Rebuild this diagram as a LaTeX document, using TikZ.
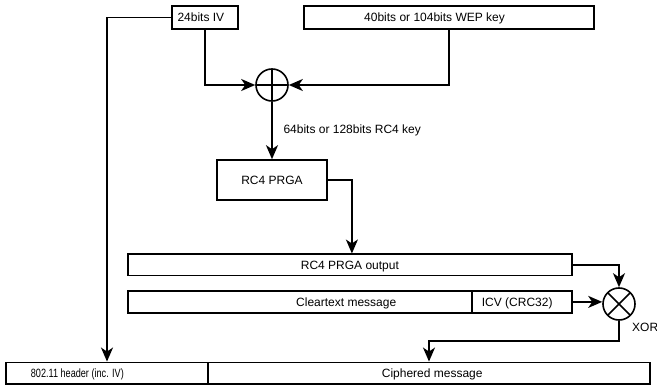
\documentclass[tikz,border=0pt]{standalone}
\usepackage{fontspec}
\setmainfont{Liberation Sans}
\usepackage{graphicx}
\usetikzlibrary{arrows.meta}
\begin{document}
\begin{tikzpicture}[x=1pt,y=-1pt,
  font=\fontsize{12}{14}\selectfont,
  box/.style={draw,line width=1.6pt,inner sep=0pt,text height=8.6pt,text depth=0pt},
  txt/.style={inner sep=0pt,anchor=base west},
  op/.style={circle,draw,line width=1.6pt,minimum size=32pt,inner sep=0pt},
  plusop/.style={op,path picture={
    \draw[line width=1.6pt] (path picture bounding box.north) -- (path picture bounding box.south)
      (path picture bounding box.west) -- (path picture bounding box.east);}},
  xorop/.style={op,path picture={
    \draw[line width=1.6pt] (path picture bounding box.north west) -- (path picture bounding box.south east)
      (path picture bounding box.north east) -- (path picture bounding box.south west);}},
  arr/.style={line width=1.6pt,-{Stealth[length=14pt,width=12pt,inset=4pt]}}]
\useasboundingbox (0,0) rectangle (657,385);

% key material
\node[box,minimum width=66pt,minimum height=23pt] (iv) at (205,17.7) {};
\node[txt] (ivtext) at (177.3,22) {24bits IV};
\node[box,minimum width=290pt,minimum height=23pt] (wep) at (449,17.7) {};
\node[txt] (weptext) at (364,22) {40bits or 104bits WEP key};

% concatenation and key stream
\node[plusop] (plus) at (272,85) {};
\node[box,minimum width=110pt,minimum height=40pt] (prga) at (272,180) {RC4 PRGA};
\node[txt] (keylabel) at (283.3,134) {64bits or 128bits RC4 key};

\node[box,minimum width=443.7pt,minimum height=21.4pt] (out) at (349.9,265) {RC4 PRGA output};
\node[box,minimum width=343.7pt,minimum height=21.7pt] (clear) at (299.9,301.9) {};
\node[txt] (cleartext) at (296,306.2) {Cleartext message};
\node[box,minimum width=100pt,minimum height=21.7pt] (icv) at (521.7,301.9) {};
\node[txt] (icvtext) at (481.7,306.2) {ICV (CRC32)};

\node[xorop] (xor) at (619,304) {};
\node[txt] (xorlabel) at (632,331.5) {XOR};

% transmitted frame
\node[box,minimum width=202pt,minimum height=21.7pt] (hdr) at (107,373.2) {};
\node[txt] (hdrtext) at (30.7,377.5) {\scalebox{0.76}[1]{802.11 header (inc. IV)}};
\node[box,minimum width=442pt,minimum height=21.7pt] (cip) at (429,373.2) {};
\node[txt] (ciptext) at (381.7,377.5) {Ciphered message};

% connectors
\draw[arr] (iv.west) -| (hdr.north);
\draw[arr] (iv.south) |- (plus.west);
\draw[arr] (wep.south) |- (plus.east);
\draw[arr] (plus.south) -- (prga.north);
\draw[arr] (prga.east) -| ([xshift=2pt]out.north);
\draw[arr] (out.east) -| (xor.north);
\draw[arr] (icv.east) -- (icv.east -| xor.west);
\draw[arr] (xor.south) -- ++(0,20) -| (cip.north);
\end{tikzpicture}
\end{document}
